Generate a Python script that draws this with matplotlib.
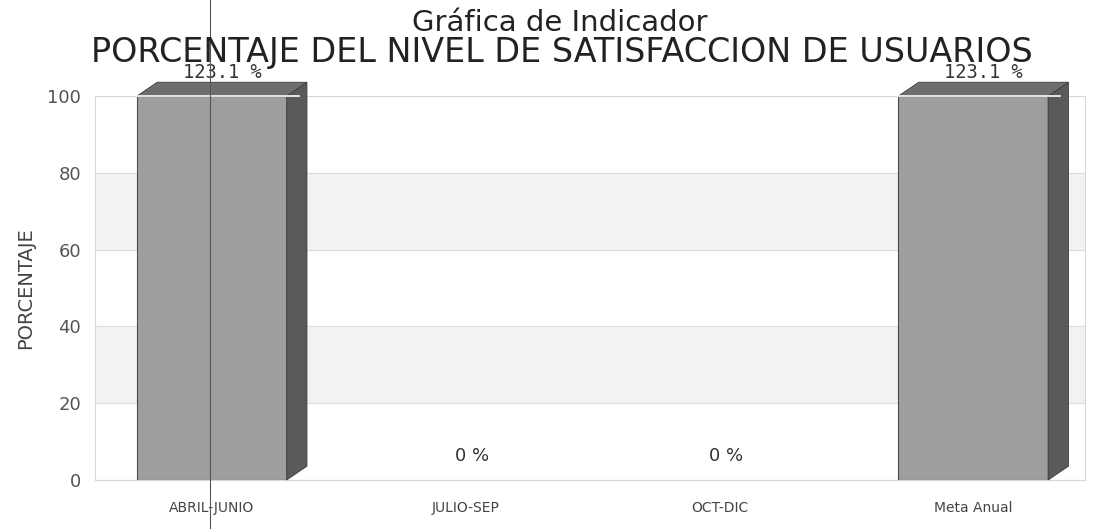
import matplotlib.pyplot as plt
from matplotlib.patches import Polygon
from matplotlib.lines import Line2D

categorias = ['ABRIL-JUNIO', 'JULIO-SEP', 'OCT-DIC', 'Meta Anual']
valores = [123.1, 0, 0, 123.1]
etiquetas = ['123.1 %', '0 %', '0 %', '123.1 %']

fig = plt.figure(figsize=(10.97, 5.29), dpi=100)
ax = fig.add_axes([0.0866, 0.0926, 0.9024, 0.7258])

ymax = 100
ax.set_ylim(0, ymax)
ax.set_xlim(-0.46, 3.44)

# bandas de fondo
for lo in (20, 60):
    ax.axhspan(lo, lo + 20, color='#f2f2f2', zorder=0)
ax.set_yticks(range(0, 101, 20))
ax.grid(axis='y', color='#dcdcdc', lw=0.8, zorder=0.5)

w = 0.59
dx, dy = 0.08, 3.6
front = '#9e9e9e'
side = '#5a5a5a'
top = '#6e6e6e'
for i, v in enumerate(valores):
    h = min(v, ymax)
    x0 = i - w / 2
    x1 = i + w / 2
    if h > 0:
        ax.bar(i, h, width=w, color=front, edgecolor='#4a4a4a', lw=0.8, zorder=3)
        ax.add_patch(Polygon([(x1, 0), (x1 + dx, dy), (x1 + dx, h + dy), (x1, h)],
                             closed=True, facecolor=side, edgecolor='#3c3c3c', lw=0.6,
                             zorder=3, clip_on=False))
        ax.add_patch(Polygon([(x0, h), (x0 + dx, h + dy), (x1 + dx, h + dy), (x1, h)],
                             closed=True, facecolor=top, edgecolor='#3c3c3c', lw=0.6,
                             zorder=3, clip_on=False))
        ax.plot([x0, x1 + dx * 0.6], [h, h], color='white', lw=1.2, zorder=4, clip_on=False)
        ax.text(i + dx / 2, h + dy + 1.0, etiquetas[i], ha='center', va='baseline',
                fontsize=13.5, family='DejaVu Sans Mono', color='#333333', clip_on=False)
    else:
        ax.text(i + 0.025, 5, etiquetas[i], ha='center', va='baseline',
                fontsize=13, color='#333333')

ax.set_xticks(range(len(categorias)))
ax.set_xticklabels(categorias, fontsize=10, color='#444444')
ax.tick_params(axis='x', length=0, pad=15)
ax.tick_params(axis='y', length=0, labelsize=13, labelcolor='#555555', pad=10)
for s in ax.spines.values():
    s.set_color('#d8d8d8')
    s.set_linewidth(0.8)
ax.set_ylabel('PORCENTAJE', fontsize=14, color='#444444', labelpad=9)

fig.text(0.51, 1 - 31 / 529, 'Gráfica de Indicador', ha='center', va='baseline',
         fontsize=21, color='#222222')
fig.text(0.512, 1 - 62 / 529, 'PORCENTAJE DEL NIVEL DE SATISFACCION DE USUARIOS',
         ha='center', va='baseline', fontsize=24, color='#222222')

# linea del escaneo
fig.add_artist(Line2D([210 / 1097, 210 / 1097], [0, 1], color='#555555', lw=0.8))

fig.savefig('out.png', dpi=100)
